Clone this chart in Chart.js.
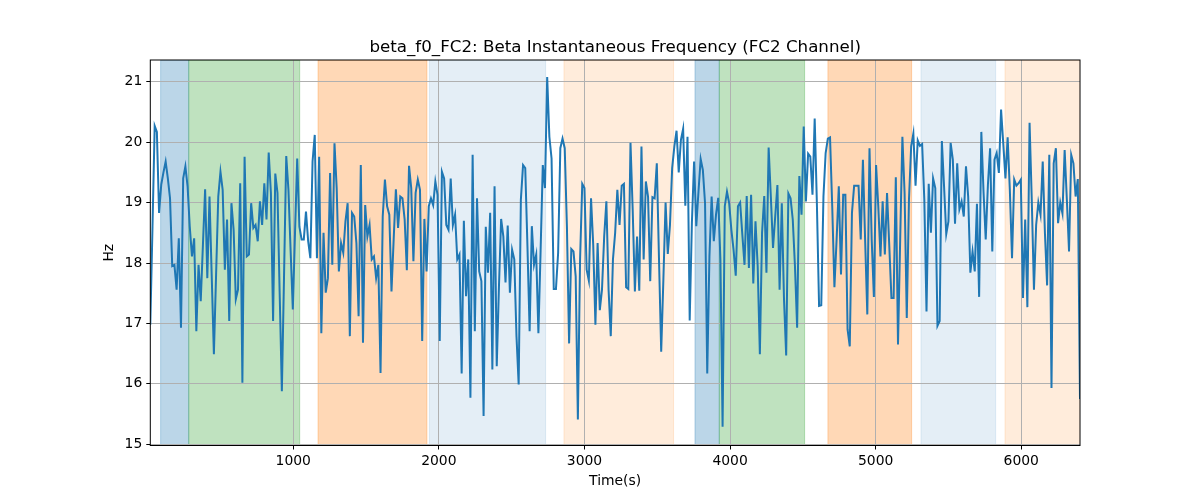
<!DOCTYPE html>
<html>
<head>
<meta charset="utf-8">
<script src="https://cdn.jsdelivr.net/npm/chart.js@4.4.1/dist/chart.umd.min.js"></script>
<style>
  html, body { margin: 0; padding: 0; background: #fff; }
</style>
</head>
<body>
<canvas id="chart" width="1200" height="500"></canvas>
<script>
// beta f0 values (Hz) in order, left to right
const hzA = [16.98, 18.6, 20.27, 20.17, 18.83, 19.3, 19.5, 19.68, 19.4, 19.07,
  17.95, 17.97, 17.56, 18.41, 16.93, 19.4, 19.6, 19.27, 18.6, 18.11,
  18.41, 16.87, 17.97, 17.37, 18.3, 19.22, 17.75, 19.1, 17.8, 16.49,
  17.8, 19.1, 19.51, 19.21, 17.89, 18.72, 17.04, 18.99, 18.55, 17.4,
  17.56, 19.32, 16.02, 19.76, 18.11, 18.14, 18.99, 18.58, 18.63, 18.36,
  19.02, 18.63, 19.32, 18.72, 19.83, 19.16, 17.04, 19.48, 19.16, 17.5,
  15.88, 17.8, 19.77, 19.21, 18.2, 17.23, 18.5, 19.73, 18.6, 18.39,
  18.39, 18.85, 18.36, 18.08, 19.68, 20.12, 18.08, 19.76, 16.84, 18.5,
  17.51, 17.75, 19.49, 17.97, 19.98, 19.24, 17.86, 18.33, 18.17, 18.69,
  18.99, 16.79, 18.83, 18.77, 18.33, 17.12, 19.62, 16.68, 18.96, 18.44,
  18.63, 18.06, 18.11, 17.75, 17.97, 16.18, 18.77, 19.38, 18.94];
const hzB = [18.8, 17.53, 18.4, 19.22, 18.58, 19.1, 19.07, 18.72, 17.88, 19.61,
  19.24, 18.03, 19.16, 19.38, 19.21, 16.71, 18.73, 17.86, 18.94];
const hzC = [19.07, 18.96, 19.35, 19.13, 16.71, 19.51, 19.4, 18.63, 18.55, 19.4,
  18.63, 18.8, 18.06, 18.14, 16.17, 18.7, 17.45, 18.06, 15.77, 19.79,
  16.87, 19.07, 17.86, 17.7, 15.47, 18.6, 17.84, 18.83, 16.24, 19.27,
  16.29, 17.6, 18.73, 18.44, 17.68, 18.62, 17.51, 18.22, 18.06, 16.79,
  15.99, 19.05, 19.62];
const hzD = [19.57, 18.28, 16.87, 18.61, 17.97, 18.14, 16.84, 18.2, 19.62, 19.24,
  21.08, 20.09, 19.73, 17.57, 17.57, 18.17, 19.9, 20.06, 19.9, 18.61,
  16.67, 18.23, 18.19, 17.78, 15.41, 18.06, 19.31, 19.24, 17.89, 17.71,
  19.07, 18.3, 16.98, 18.33, 17.22, 17.56, 18.44, 19.02, 17.56, 16.79,
  18.06, 18.5, 19.21];
const hzE = [18.63, 19.28, 19.31, 17.6, 17.57, 19.99, 18.88, 17.53, 18.44, 17.54,
  19.93, 18.06, 19.35, 19.1, 17.7, 19.09, 19.07, 19.65, 18.06, 16.53,
  17.73, 19.0, 18.15, 18.63, 19.57, 19.93, 20.19, 19.5, 20.04, 20.22,
  18.95, 20.09, 17.05, 18.66, 19.68, 18.61, 19.18, 19.72, 19.54, 18.99,
  16.17, 18.11, 19.1];
const hzF = [18.36, 18.8, 19.08, 18.06, 15.29, 18.94, 19.18, 18.99, 18.55, 18.22,
  17.79, 18.94, 19.0, 18.47, 17.97, 19.11, 17.92, 19.13, 17.66, 18.69,
  17.95, 16.49, 18.5, 19.11, 17.84, 19.91, 19.1, 18.25, 18.77, 19.29,
  17.56, 18.99, 17.41, 16.47, 19.15, 19.07, 18.72, 17.95, 16.93, 19.44,
  18.8, 20.26, 19.02];
const hzG = [19.81, 19.76, 19.13, 20.39, 18.99, 17.29, 17.3, 19.1, 19.82, 20.06,
  20.08, 18.94, 17.6, 18.39, 19.27, 17.81, 19.13, 19.13, 16.9, 16.62,
  18.83, 19.28, 19.28, 19.28, 18.39, 19.71, 18.39, 17.15, 19.9, 18.39,
  17.44, 19.62, 18.94, 18.11, 19.02, 18.14, 19.16, 18.3, 17.42, 17.42,
  19.42, 16.65];
const hzH = [18.4, 20.09, 19.16, 17.09, 19.05, 19.93, 20.14, 19.28, 20.03, 19.94,
  19.97, 19.05, 17.2, 19.31, 18.5, 19.4, 19.24, 16.96, 17.04, 20.02,
  19.27, 18.48, 18.69, 19.99, 19.71, 18.65, 19.65, 18.89, 19.02, 18.77,
  19.6, 19.1, 17.84, 18.19, 17.86, 18.98, 17.44, 20.17, 19.18, 18.39,
  19.29, 19.9, 18.19, 19.71];
const hzI = [19.82, 19.49, 20.54, 19.98, 19.4, 20.08, 19.21, 18.08, 19.38, 19.28,
  19.32, 19.38, 17.42, 18.72, 17.27, 20.32, 19.05, 17.56, 18.63, 19.0,
  18.8, 19.68, 18.5, 17.63, 19.79, 15.93, 19.65, 19.9, 18.66, 19.0,
  18.82, 19.87, 19.05, 18.19, 19.79, 19.65, 19.1, 19.39, 15.75];

// sampling: first sample time and step (s)
const tStart = 18;
const tStep = 15.06;

// shaded phases (s)
const spanStart = [89, 282, 1170, 1935, 2859, 3759, 3926, 4672, 5311, 5888];
const spanEnd   = [282, 1044, 1918, 2733, 3612, 3926, 4512, 5247, 5824, 6420];
const spanKind  = ['blue', 'green', 'orange', 'lightblue', 'lightorange',
                   'blue', 'green', 'orange', 'lightblue', 'lightorange'];

const xTicks = [1000, 2000, 3000, 4000, 5000, 6000];
const yTicks = [15, 16, 17, 18, 19, 20, 21];

const titleText = 'beta_f0_FC2: Beta Instantaneous Frequency (FC2 Channel)';

const spanFill = {
  blue: 'rgba(31,119,180,0.3)',
  green: 'rgba(44,160,44,0.3)',
  orange: 'rgba(255,127,14,0.3)',
  lightblue: 'rgba(31,119,180,0.12)',
  lightorange: 'rgba(255,127,14,0.15)'
};

const hz = [].concat(hzA, hzB, hzC, hzD, hzE, hzF, hzG, hzH, hzI);
const points = hz.map((v, i) => ({ x: tStart + i * tStep, y: v }));

const spanPlugin = {
  id: 'spans',
  beforeDraw(chart) {
    const { ctx, chartArea: a, scales: { x } } = chart;
    ctx.save();
    ctx.beginPath();
    ctx.rect(a.left, a.top, a.right - a.left, a.bottom - a.top);
    ctx.clip();
    spanStart.forEach((s, i) => {
      const x0 = x.getPixelForValue(s);
      const x1 = x.getPixelForValue(spanEnd[i]);
      ctx.fillStyle = spanFill[spanKind[i]];
      ctx.strokeStyle = spanFill[spanKind[i]];
      ctx.lineWidth = 1;
      ctx.fillRect(x0, a.top, x1 - x0, a.bottom - a.top);
      ctx.strokeRect(x0, a.top, x1 - x0, a.bottom - a.top);
    });
    ctx.restore();
  },
  afterDraw(chart) {
    const { ctx, chartArea: a } = chart;
    ctx.save();
    ctx.strokeStyle = '#000';
    ctx.lineWidth = 1;
    ctx.strokeRect(a.left, a.top, a.right - a.left, a.bottom - a.top);
    // title centred over the plot area, like matplotlib
    ctx.fillStyle = '#000';
    ctx.font = '16.7px "DejaVu Sans"';
    ctx.textAlign = 'center';
    ctx.textBaseline = 'alphabetic';
    ctx.fillText(titleText, (a.left + a.right) / 2, a.top - 8);
    ctx.restore();
  }
};

Chart.defaults.font.family = 'DejaVu Sans';
Chart.defaults.color = '#000';

new Chart(document.getElementById('chart').getContext('2d'), {
  type: 'line',
  data: {
    datasets: [{
      data: points,
      borderColor: '#1f77b4',
      borderWidth: 2,
      pointRadius: 0,
      tension: 0,
      fill: false
    }]
  },
  options: {
    responsive: false,
    animation: false,
    layout: { padding: { left: 96, right: 120, top: 60, bottom: 0 } },
    plugins: {
      legend: { display: false },
      tooltip: { enabled: false },
      title: { display: false }
    },
    scales: {
      x: {
        type: 'linear',
        min: points[0].x,
        max: points[points.length - 1].x,
        afterBuildTicks: s => { s.ticks = xTicks.map(v => ({ value: v })); },
        afterFit: s => { s.height = 54.5; },
        grid: { color: '#b0b0b0', lineWidth: 1, tickColor: '#000', tickLength: 4 },
        border: { display: false },
        ticks: { font: { size: 13.9 }, padding: 4, maxRotation: 0, callback: v => String(v) },
        title: { display: true, text: 'Time(s)', font: { size: 13.9 }, padding: { top: 0, bottom: 10 } }
      },
      y: {
        min: 14.98,
        max: 21.36,
        afterBuildTicks: s => { s.ticks = yTicks.map(v => ({ value: v })); },
        afterFit: s => { s.width = 54.3; },
        grid: { color: '#b0b0b0', lineWidth: 1, tickColor: '#000', tickLength: 4 },
        border: { display: false },
        ticks: { font: { size: 13.9 }, padding: 4, callback: v => String(v) },
        title: { display: true, text: 'Hz', font: { size: 13.9 }, padding: { top: 5, bottom: 0 } }
      }
    }
  },
  plugins: [spanPlugin]
});
</script>
</body>
</html>
